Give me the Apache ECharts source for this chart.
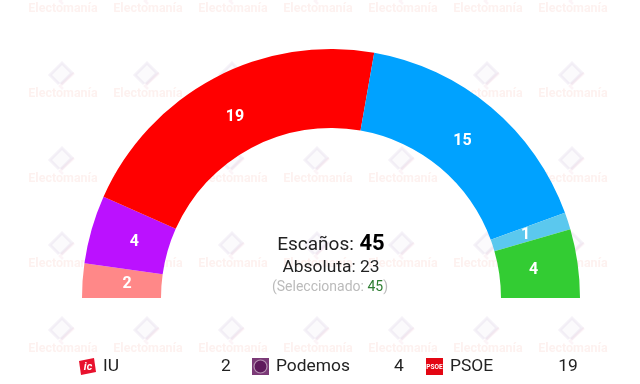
<!DOCTYPE html>
<html>
<head>
<meta charset="utf-8">
<script src="https://cdn.jsdelivr.net/npm/echarts@6/dist/echarts.min.js"></script>
<style>
  html, body { margin: 0; padding: 0; background: #fff; }
  #chart { width: 640px; height: 384px; }
</style>
</head>
<body>
<div id="chart"></div>
<script>
// escaños, izquierda a derecha
var parties = ['IU', 'Podemos', 'PSOE', 'PP', 'Otros', 'Vox']
var seats = [2, 4, 19, 15, 1, 4]
var colors = ['#ff8888', '#bb11ff', '#ff0000', '#00a2ff', '#5bc8ee', '#33cc33']

var legendParties = ['IU', 'Podemos', 'PSOE']
var legendSeats = [2, 4, 19]
var legendNameX = [103, 276, 450]
var legendSeatX = [226, 399, 568]

var markX = [63, 148, 233, 318, 403, 488, 573]
var markY = [9, 94, 179, 264, 349]

var FONT = 'Roboto'
var chart = echarts.init(document.getElementById('chart'))

var graphic = []

// marca de agua
markY.forEach(function (y) {
  markX.forEach(function (x) {
    graphic.push({
      type: 'text', x: x, y: y, z: -10, silent: true,
      style: {
        text: 'Electomanía', fill: 'rgba(240,120,100,0.1)', align: 'center',
        verticalAlign: 'middle', font: 'bold 12.5px ' + FONT
      }
    })
    graphic.push({
      type: 'polyline', x: x - 1, y: y - 18, z: -10, silent: true,
      shape: { points: [[-3, 8], [-12, -1], [0, -13], [10, -3], [-1, 8]] },
      style: { fill: 'rgba(130,90,170,0.03)', stroke: 'rgba(130,90,170,0.08)', lineWidth: 3 }
    })
    graphic.push({
      type: 'polyline', x: x - 1, y: y - 18, z: -10, silent: true,
      shape: { points: [[1, 13], [-2, 10], [12, -3]] },
      style: { fill: null, stroke: 'rgba(220,120,150,0.08)', lineWidth: 2.5 }
    })
  })
})

// texto central
graphic.push({
  type: 'text', x: 315.5, y: 245, style: {
    text: 'Escaños:', fill: '#222', align: 'center', verticalAlign: 'middle', font: '19px ' + FONT
  }
})
graphic.push({
  type: 'text', x: 372, y: 244, style: {
    text: '45', fill: '#000', align: 'center', verticalAlign: 'middle', font: 'bold 22px ' + FONT
  }
})
graphic.push({
  type: 'text', x: 331, y: 268, style: {
    text: 'Absoluta: 23', fill: '#222', align: 'center', verticalAlign: 'middle', font: '17.4px ' + FONT
  }
})
graphic.push({
  type: 'text', x: 330, y: 287, style: {
    text: '{a|(Seleccionado: }{b|45}{a|)}', align: 'center', verticalAlign: 'middle',
    rich: {
      a: { fill: '#bbb', font: '14px ' + FONT },
      b: { fill: '#2e7d32', font: '14px ' + FONT }
    }
  }
})

// leyenda
legendParties.forEach(function (name, i) {
  graphic.push({
    type: 'text', x: legendNameX[i], y: 367, style: {
      text: name, fill: '#222', verticalAlign: 'middle', font: '17.4px ' + FONT
    }
  })
  graphic.push({
    type: 'text', x: legendSeatX[i], y: 367, style: {
      text: String(legendSeats[i]), fill: '#222', align: 'center', verticalAlign: 'middle', font: '17.4px ' + FONT
    }
  })
})

// icono IU
graphic.push({
  type: 'polygon', z: 5, shape: { points: [[79, 361], [94, 358], [96, 372], [81, 375]] },
  style: { fill: '#e8112d' }
})
graphic.push({
  type: 'text', x: 88, y: 367, z: 6, style: {
    text: 'ic', fill: '#fff', align: 'center', verticalAlign: 'middle', font: 'italic bold 11px ' + FONT
  }
})
// icono Podemos
graphic.push({
  type: 'rect', z: 5, shape: { x: 252, y: 358, width: 17, height: 17 }, style: { fill: '#7b3a77' }
})
graphic.push({
  type: 'circle', z: 6, shape: { cx: 260.5, cy: 366.5, r: 6.5 },
  style: { fill: '#5f1a5c', stroke: '#b48fb1', lineWidth: 1.2 }
})
// icono PSOE
graphic.push({
  type: 'rect', z: 5, shape: { x: 426, y: 358, width: 17, height: 17 }, style: { fill: '#e30613' }
})
graphic.push({
  type: 'text', x: 434.5, y: 367, z: 6, style: {
    text: 'PSOE', fill: '#fff', align: 'center', verticalAlign: 'middle', font: 'bold 6.5px ' + FONT
  }
})

var seatData = parties.map(function (name, i) {
  return { name: name, value: seats[i] }
})

chart.setOption({
  animation: false,
  backgroundColor: '#fff',
  graphic: graphic,
  series: [
    {
      type: 'pie',
      center: [331, 298],
      radius: [170, 249],
      startAngle: 180,
      endAngle: 360,
      silent: true,
      color: colors,
      label: { show: false },
      labelLine: { show: false },
      data: seatData
    },
    // los numeros van algo mas adentro que el centro del arco
    {
      type: 'pie',
      center: [331, 298],
      radius: [170, 233],
      startAngle: 180,
      endAngle: 360,
      silent: true,
      itemStyle: { color: 'transparent' },
      label: {
        position: 'inside',
        formatter: '{c}',
        color: '#fff',
        fontFamily: FONT,
        fontWeight: 'bold',
        fontSize: 16
      },
      labelLine: { show: false },
      data: seatData
    }
  ]
})
</script>
</body>
</html>
